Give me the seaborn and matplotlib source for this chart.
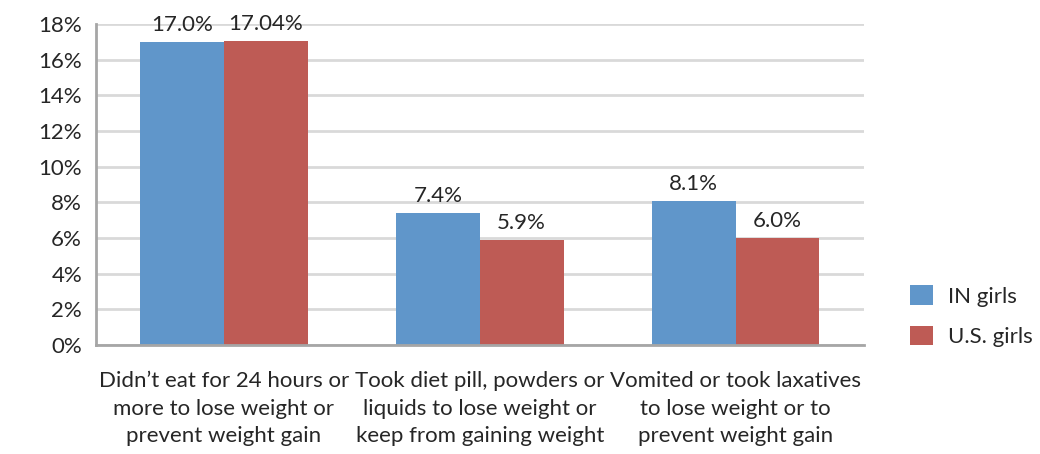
import matplotlib
matplotlib.use("Agg")
import matplotlib.pyplot as plt
import seaborn as sns
import pandas as pd
from matplotlib.ticker import FixedLocator, FuncFormatter

sns.set_theme(style="white")
plt.rcParams["font.family"] = ["Lato", "DejaVu Sans"]

categories = [
    "Didn\u2019t eat for 24 hours or\nmore to lose weight or\nprevent weight gain",
    "Took diet pill, powders or\nliquids to lose weight or\nkeep from gaining weight",
    "Vomited or took laxatives\nto lose weight or to\nprevent weight gain",
]
series = ["IN girls", "U.S. girls"]
in_girls = ["17.0", "7.4", "8.1"]
us_girls = ["17.04", "5.9", "6.0"]
colors = ["#6096CA", "#BE5B55"]
text_color = "#262626"
fs = 16

rows = []
for cat, a, b in zip(categories, in_girls, us_girls):
    rows.append({"category": cat, "group": series[0], "value": float(a), "label": a + "%"})
    rows.append({"category": cat, "group": series[1], "value": float(b), "label": b + "%"})
df = pd.DataFrame(rows)

fig = plt.figure(figsize=(10.4, 4.54), dpi=100)
ax = fig.add_axes([0.0923, 0.240, 0.738, 0.707])

sns.barplot(data=df, x="category", y="value", hue="group", palette=colors,
            width=0.655, gap=0, saturation=1, ax=ax, linewidth=0, edgecolor="none")

# value labels above each bar
for container, grp in zip(ax.containers, series):
    labels = df.loc[df["group"] == grp, "label"].tolist()
    ax.bar_label(container, labels=labels, padding=5, fontsize=fs, color=text_color)

ax.set_ylim(0, 18)
ax.set_xlim(-0.5, 2.5)
ax.set_yticks(range(0, 19, 2))
ax.yaxis.set_major_formatter(FuncFormatter(lambda v, p: f"{v:.0f}%"))
ax.yaxis.grid(True, color="#d9d9d9", linewidth=2)
ax.set_axisbelow(True)

# category boundaries as tick marks, labels centered between
ax.xaxis.set_major_locator(FixedLocator([0, 1, 2]))
ax.xaxis.set_minor_locator(FixedLocator([-0.5, 0.5, 1.5, 2.5]))
ax.tick_params(axis="x", which="major", length=0, pad=19, labelsize=fs, labelcolor=text_color)
ax.tick_params(axis="x", which="minor", length=7, width=1.5, color="#a6a6a6", direction="out")
ax.tick_params(axis="y", which="major", length=6, width=1.5, color="#a6a6a6",
               labelsize=fs, labelcolor=text_color, pad=4)
for lbl in ax.get_xticklabels():
    lbl.set_linespacing(1.45)

ax.set_xlabel("")
ax.set_ylabel("")
for side in ["top", "right"]:
    ax.spines[side].set_visible(False)
for side in ["left", "bottom"]:
    ax.spines[side].set_color("#a6a6a6")
    ax.spines[side].set_linewidth(2)

ax.legend(loc="center left", bbox_to_anchor=(1.035, 0.09), frameon=False,
          fontsize=fs, handlelength=1.0, handleheight=1.0, handletextpad=0.7,
          labelspacing=0.85, labelcolor=text_color)

fig.savefig("out.png", dpi=100)
